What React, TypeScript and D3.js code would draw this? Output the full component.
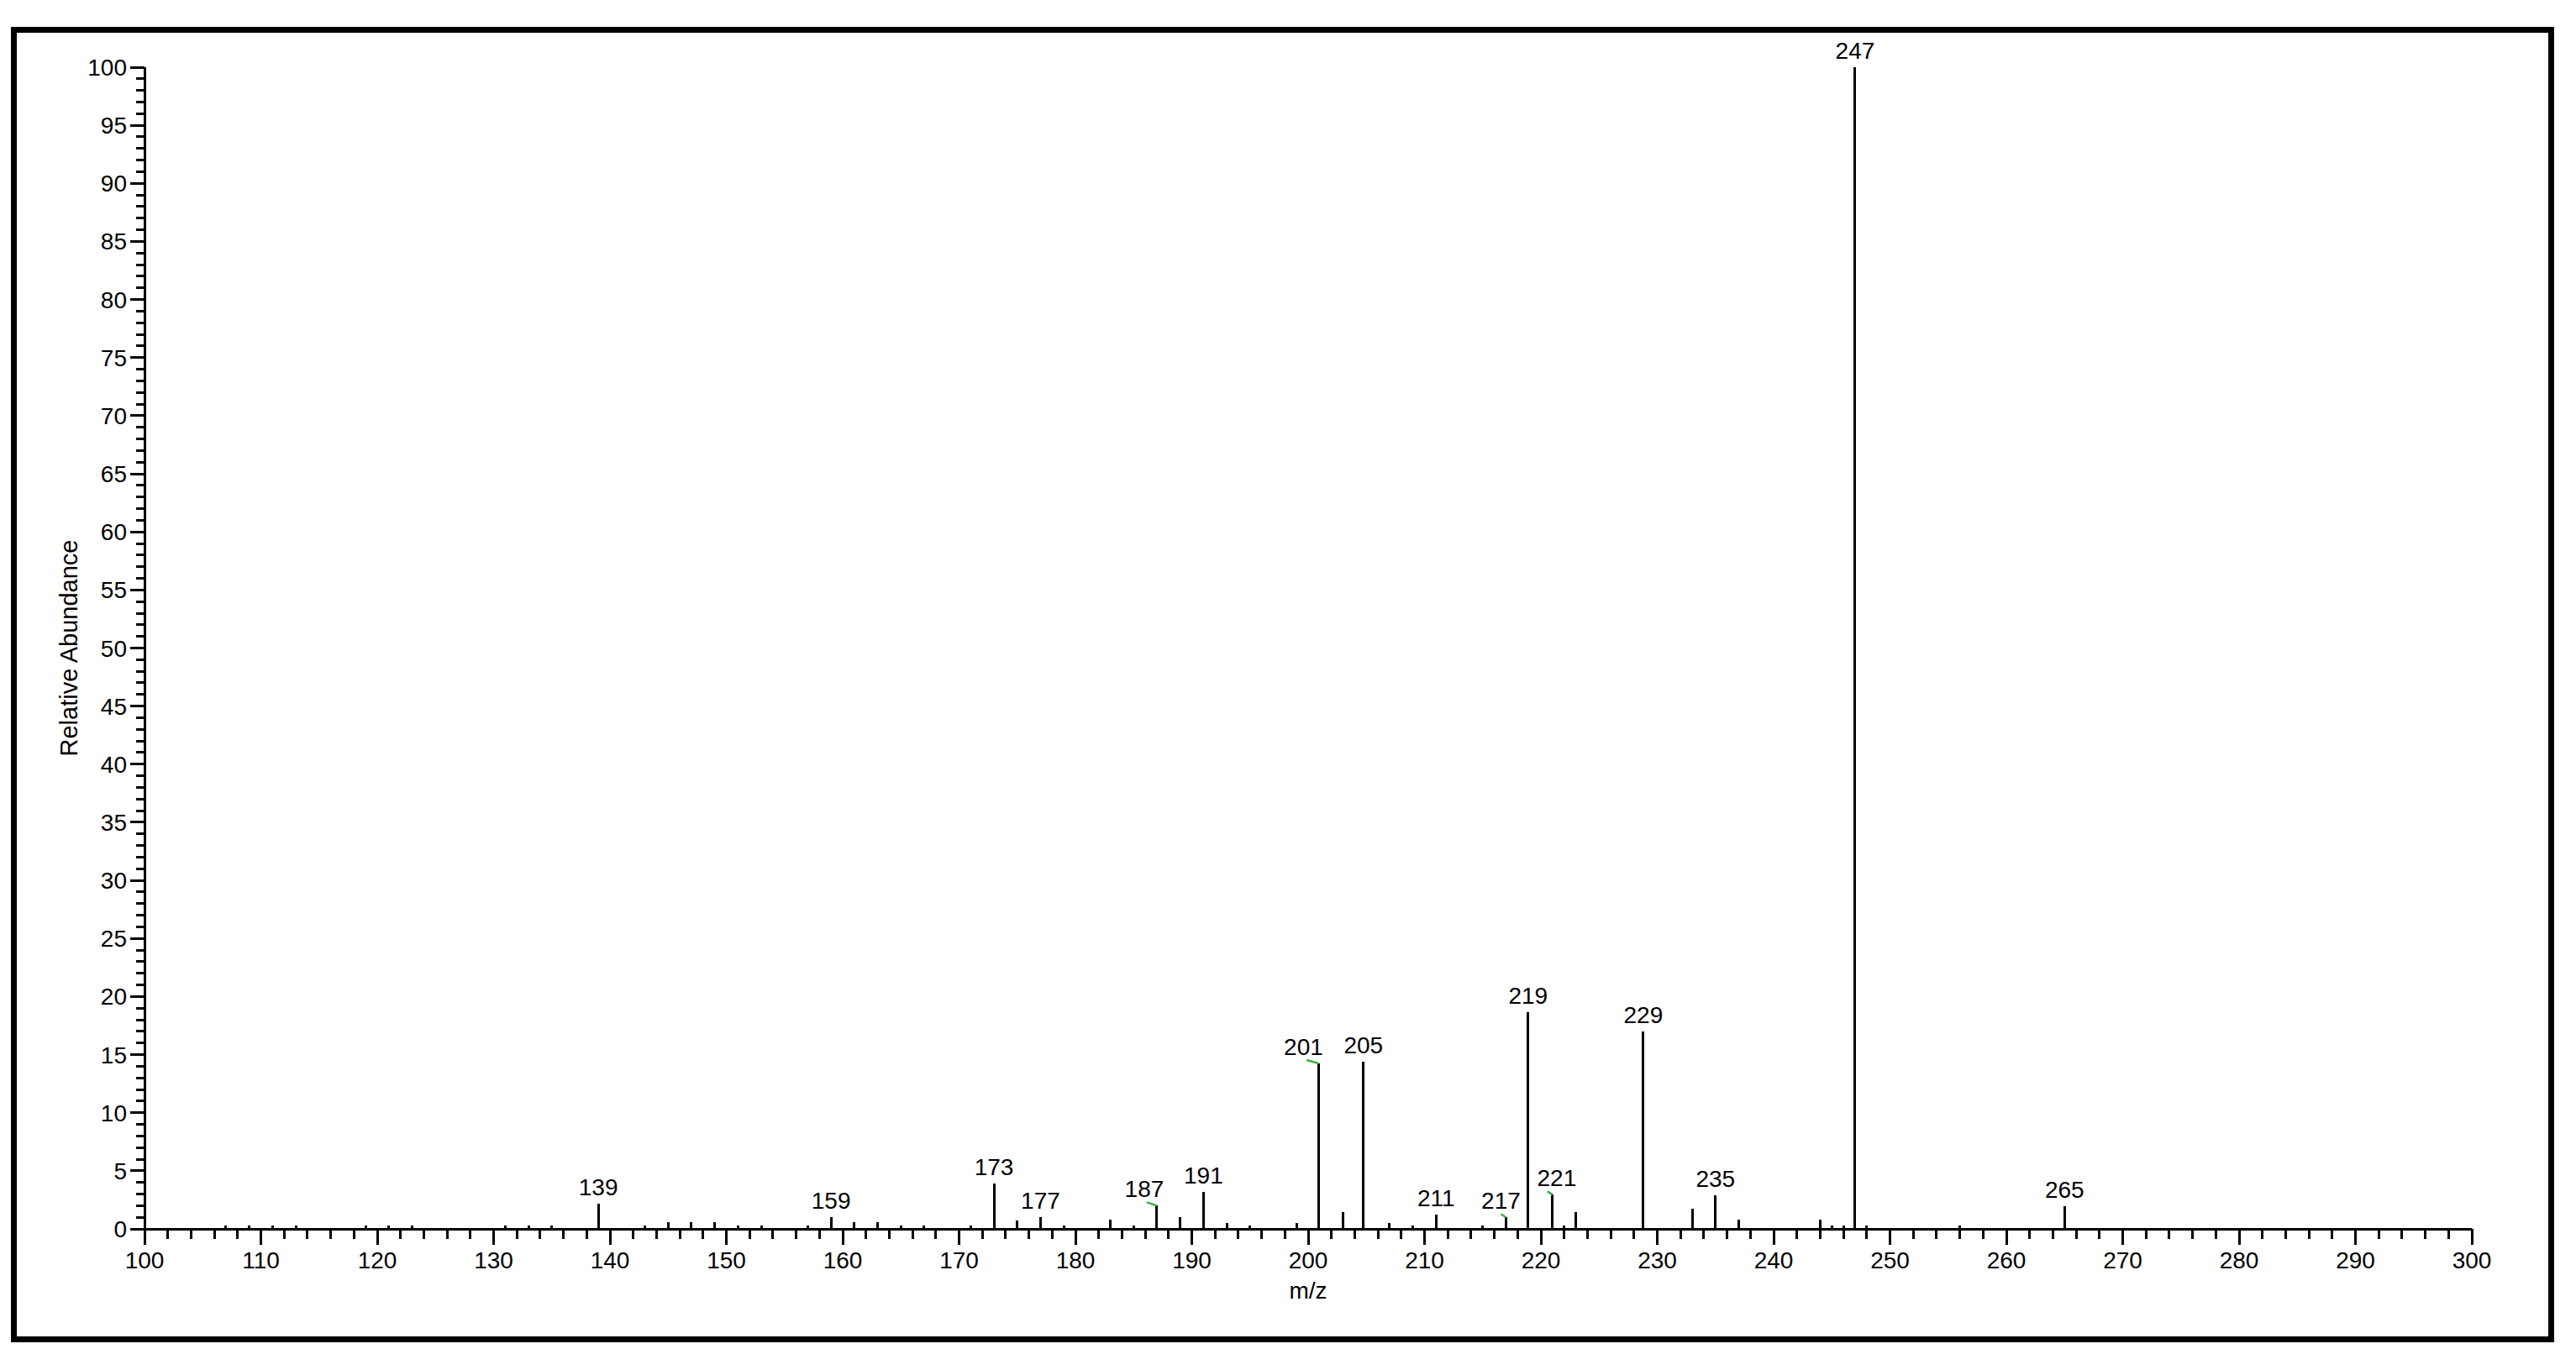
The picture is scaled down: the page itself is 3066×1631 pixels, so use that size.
import React from 'react';
import * as d3 from 'd3';

// peaks (m/z and relative abundance, %)
const mzValues = [107, 109, 111, 113, 119, 121, 123, 131, 133, 135, 139, 143, 145, 147, 149, 151, 153, 157, 159, 161, 163, 165, 167, 171, 173, 175, 177, 179, 183, 185, 187, 189, 191, 193, 195, 199, 200.9, 203, 204.75, 207, 209, 211, 215, 217, 218.9, 221, 222, 223, 228.8, 233, 235, 237, 244, 245, 246, 247, 248, 256, 265];
const abundanceValues = [0.3, 0.3, 0.3, 0.3, 0.3, 0.3, 0.3, 0.3, 0.3, 0.3, 2.2, 0.3, 0.6, 0.6, 0.6, 0.3, 0.3, 0.3, 1.0, 0.6, 0.6, 0.3, 0.3, 0.3, 3.9, 0.75, 1.0, 0.3, 0.8, 0.3, 2.0, 1.0, 3.15, 0.5, 0.3, 0.5, 14.25, 1.47, 14.37, 0.5, 0.3, 1.22, 0.3, 1.0, 18.65, 2.94, 0.3, 1.47, 17.0, 1.76, 2.91, 0.8, 0.8, 0.3, 0.3, 100, 0.3, 0.3, 1.96];
const labelledPeaks = [139, 159, 173, 177, 187, 191, 201, 205, 211, 217, 219, 221, 229, 235, 247, 265];

const xDomain = [100, 300];
const yDomain = [0, 100];
const xLabel = 'm/z';
const yLabel = 'Relative Abundance';

const W = 3066;
const H = 1631;
const FONT = '"Liberation Sans", Arial, sans-serif';

// labels the software pushed sideways to avoid overlap (px)
const labelNudge: Record<number, number> = {187: -15, 201: -18, 217: -6, 221: 5};

const App = () => {
    const x = d3.scaleLinear().domain(xDomain).range([172, 2942]);
    const y = d3.scaleLinear().domain(yDomain).range([1463, 80]);

    const xMajor = d3.range(xDomain[0], xDomain[1] + 1, 10);
    const xMinor = d3.range(xDomain[0], xDomain[1] + 1, 2).filter(v => v % 10 !== 0);
    const yMajor = d3.range(yDomain[0], yDomain[1] + 1, 5);
    const yMinor = d3.range(yDomain[0], yDomain[1] + 1, 1).filter(v => v % 5 !== 0);

    const peaks = mzValues.map((m, i) => ({mz: m, ab: abundanceValues[i], nominal: Math.round(m)}));
    const x0 = x(xDomain[0]);
    const y0 = y(0);

    return (
        <div style={{position: 'absolute', left: 0, top: 0}}>
            <svg width={W} height={H} style={{display: 'block', background: '#fff'}} fontFamily={FONT}>
                <rect x={16.5} y={35.5} width={3020} height={1559} fill="none" stroke="#000" strokeWidth={7}/>

                {/* y axis */}
                <g stroke="#000" strokeWidth={3} shapeRendering="crispEdges">
                    <line x1={x0} x2={x0} y1={y(100)} y2={y0 + 19}/>
                    {yMajor.map(v => <line key={'ym' + v} x1={x0 - 17} x2={x0} y1={y(v)} y2={y(v)}/>)}
                    {yMinor.map(v => <line key={'yn' + v} x1={x0 - 10} x2={x0} y1={y(v)} y2={y(v)}/>)}
                </g>
                <g fontSize={28} textAnchor="end" fill="#000">
                    {yMajor.map(v => <text key={'yl' + v} x={x0 - 21} y={y(v) + 10}>{v}</text>)}
                </g>

                {/* x axis */}
                <g stroke="#000" strokeWidth={3} shapeRendering="crispEdges">
                    <line x1={x0 - 17} x2={x(xDomain[1])} y1={y0} y2={y0}/>
                    {xMajor.map(v => <line key={'xm' + v} x1={x(v)} x2={x(v)} y1={y0} y2={y0 + 19}/>)}
                    {xMinor.map(v => <line key={'xn' + v} x1={x(v)} x2={x(v)} y1={y0} y2={y0 + 12}/>)}
                </g>
                <g fontSize={28} textAnchor="middle" fill="#000">
                    {xMajor.map(v => <text key={'xl' + v} x={x(v)} y={1510}>{v}</text>)}
                </g>

                <text x={x(200)} y={1546} fontSize={28} textAnchor="middle">{xLabel}</text>
                <text transform={`translate(92, ${y(50)}) rotate(-90)`} fontSize={29} textAnchor="middle">{yLabel}</text>

                {/* peaks */}
                <g stroke="#000" strokeWidth={3} shapeRendering="crispEdges">
                    {peaks.map(p => <line key={'p' + p.mz} x1={x(p.mz)} x2={x(p.mz)} y1={y0} y2={y(p.ab)}/>)}
                </g>
                {peaks.filter(p => labelledPeaks.includes(p.nominal)).map(p => {
                    const px = x(p.mz);
                    const py = y(p.ab);
                    const nudge = labelNudge[p.nominal] || 0;
                    return (
                        <g key={'pl' + p.mz}>
                            {nudge !== 0 &&
                                <line x1={px - Math.max(6, -nudge * 0.8)} y1={py - 4} x2={px} y2={py}
                                      stroke="#3cb043" strokeWidth={2.5}/>}
                            <text x={px + nudge} y={py - 10} fontSize={28} textAnchor="middle">{p.nominal}</text>
                        </g>
                    );
                })}
            </svg>
        </div>
    );
};

export default App;
